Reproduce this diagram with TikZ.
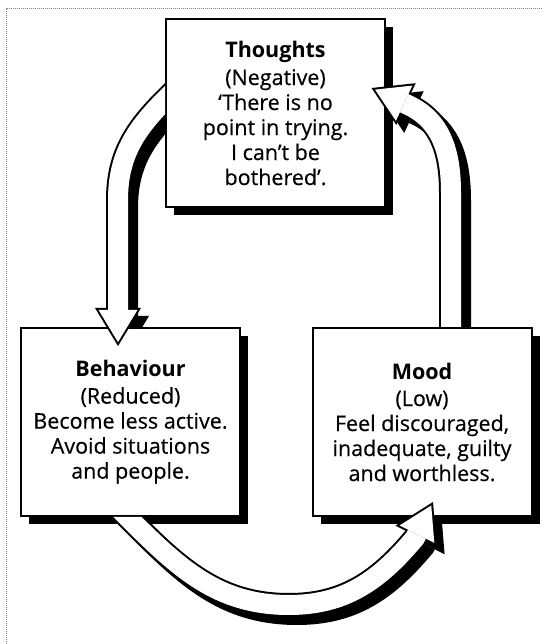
\documentclass[tikz,border=0pt]{standalone}
\usepackage{fontspec}
\setmainfont{Open Sans}[UprightFeatures={FakeBold=0.4}]
\usetikzlibrary{arrows.meta, shadows}

\tikzset{
    box/.style={draw, line width=2pt, fill=white, align=center,
        minimum width=219pt, minimum height=188pt,
        font=\fontsize{21.5}{25}\selectfont,
        drop shadow={shadow xshift=8pt, shadow yshift=-8pt,
            fill=black, opacity=1}},
    arrowshadow/.style={black, line width=24pt,
        transform canvas={xshift=8pt, yshift=-8pt},
        -{Triangle[length=38pt, width=46pt, line width=0pt]}},
    arrowline/.style={black, line width=24pt,
        -{Triangle[length=38pt, width=46pt, line width=0pt]}},
    arrowfill/.style={white, line width=20pt, shorten >=3.9pt,
        -{Triangle[length=32.1pt, width=38.9pt, line width=0pt]}}
}

% Arrow paths, from box to box.
\newcommand{\tobehaviour}{([xshift=15pt, yshift=28pt]thoughts.west)
    -- ([yshift=13pt]thoughts.west) to[out=225, in=90] (118,444)
    -- ([xshift=-12.5pt, yshift=-19pt]behaviour.north)}
\newcommand{\tomood}{([xshift=-18pt, yshift=15pt]behaviour.south)
    -- ([xshift=-3pt]behaviour.south) to[out=-45, in=180] (289,39)
    to[out=0, in=230] (415,106) -- ([xshift=11pt, yshift=15pt]mood.south)}
\newcommand{\tothoughts}{([xshift=29pt, yshift=-10pt]mood.north)
    -- (451,451) to[out=90, in=-25] (408,539)
    -- ([xshift=-14.5pt, yshift=25pt]thoughts.east)}

\begin{document}
\begin{tikzpicture}[x=1pt, y=1pt]
\useasboundingbox (0,0) rectangle (543,644);

% Draw frame.
\draw[gray, densely dotted, line width=1pt] (6,0) -- (6,635) -- (543,635);

% Draw boxes.
\node[box] (thoughts) at (275.5,531)
    {\textbf{Thoughts}\\[3pt](Negative)\\‘There is no\\point in trying.\\I can’t be\\bothered’.};
\node[box] (behaviour) at (130.5,222)
    {\textbf{Behaviour}\\[2pt](Reduced)\\Become less active.\\Avoid situations\\and people.};
\node[box] (mood) at (422,222)
    {\textbf{Mood}\\[2pt](Low)\\Feel discouraged,\\inadequate, guilty\\and worthless.};

% Draw arrow shadows, kept off the boxes.
\begin{scope}
\clip (0,0) rectangle (543,644)
    (thoughts.north west) rectangle (thoughts.south east)
    (behaviour.north west) rectangle (behaviour.south east)
    (mood.north west) rectangle (mood.south east);
\draw[arrowshadow] \tobehaviour;
\draw[arrowshadow] \tomood;
\draw[arrowshadow] \tothoughts;
\end{scope}

% Draw arrows, each hidden in the box it leaves.
\begin{scope}
\clip (0,0) rectangle (543,644)
    (thoughts.north west) rectangle (thoughts.south east);
\foreach \layer in {arrowline, arrowfill}
    \draw[\layer] \tobehaviour;
\end{scope}

\begin{scope}
\clip (0,0) rectangle (543,644)
    (behaviour.north west) rectangle (behaviour.south east);
\foreach \layer in {arrowline, arrowfill}
    \draw[\layer] \tomood;
\end{scope}

\begin{scope}
\clip (0,0) rectangle (543,644)
    (mood.north west) rectangle (mood.south east);
\foreach \layer in {arrowline, arrowfill}
    \draw[\layer] \tothoughts;
\end{scope}

\end{tikzpicture}
\end{document}
